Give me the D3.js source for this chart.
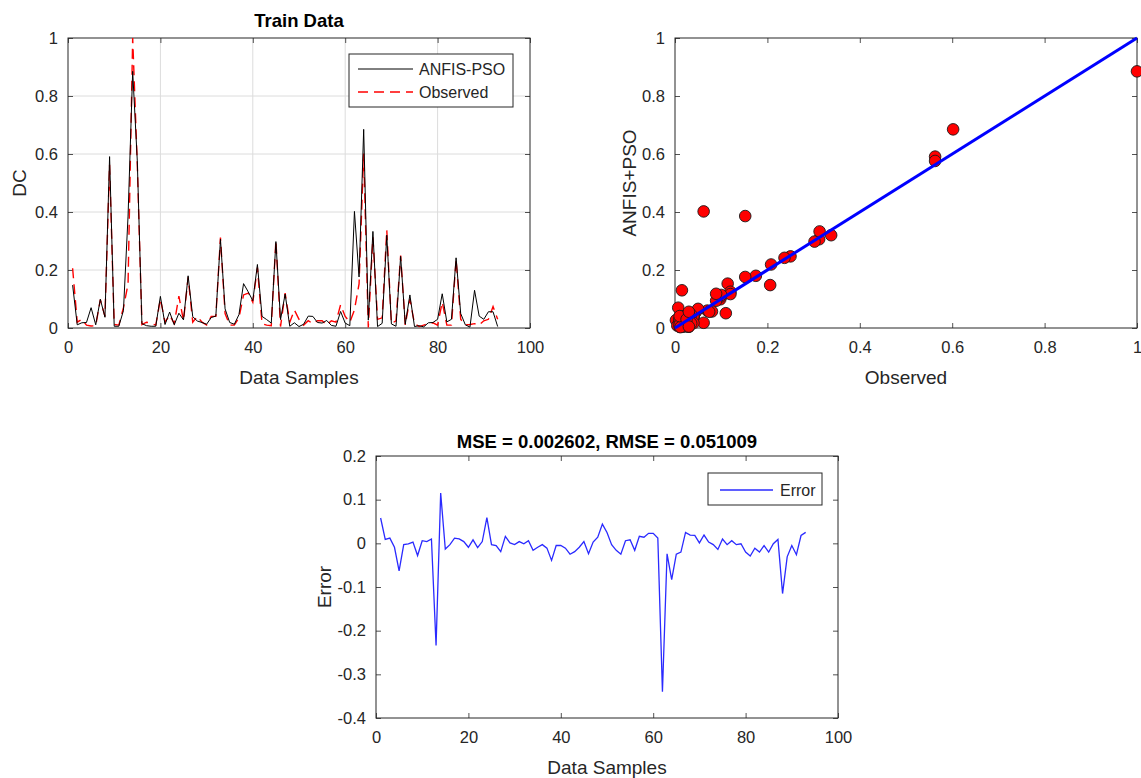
<!DOCTYPE html>
<html>
<head>
<meta charset="utf-8">
<script src="https://cdn.jsdelivr.net/npm/d3@7"></script>
<style>
  html, body { margin: 0; padding: 0; background: #fff; }
  svg { display: block; font-family: "Liberation Sans", Arial, Helvetica, sans-serif; }
  .tick text { fill: #262626; font-size: 16.5px; }
  .domain { display: none; }
  .tick line { stroke: #262626; stroke-width: 0.8; }
</style>
</head>
<body>
<svg id="fig" width="1141" height="778"></svg>
<script>
// Sample index and series (DC values)
const samples = d3.range(1, 94);
const observed = [
  0.206, 0.020, 0.030, 0.010, 0.007, 0.008, 0.098, 0.040, 0.563, 0.012,
  0.010, 0.070, 0.152, 1.000, 0.563, 0.012, 0.020, 0.016, 0.010, 0.100,
  0.020, 0.045, 0.015, 0.110, 0.025, 0.175, 0.020, 0.040, 0.020, 0.010,
  0.040, 0.040, 0.312, 0.050, 0.010, 0.010, 0.035, 0.114, 0.120, 0.089,
  0.208, 0.015, 0.010, 0.008, 0.302, 0.005, 0.120, 0.020, 0.062, 0.030,
  0.010, 0.025, 0.015, 0.025, 0.025, 0.010, 0.025, 0.020, 0.080, 0.040,
  0.020, 0.062, 0.152, 0.602, 0.002, 0.313, 0.030, 0.035, 0.338, 0.015,
  0.025, 0.250, 0.010, 0.100, 0.015, 0.005, 0.010, 0.015, 0.018, 0.010,
  0.089, 0.010, 0.010, 0.237, 0.030, 0.010, 0.012, 0.015, 0.010, 0.025,
  0.030, 0.074, 0.030
];
const predicted = [
  0.148, 0.011, 0.018, 0.019, 0.070, 0.011, 0.099, 0.037, 0.591, 0.006,
  0.006, 0.060, 0.386, 0.885, 0.576, 0.015, 0.008, 0.006, 0.006, 0.109,
  0.012, 0.055, 0.011, 0.051, 0.028, 0.180, 0.039, 0.024, 0.019, 0.013,
  0.036, 0.041, 0.306, 0.066, 0.019, 0.013, 0.046, 0.153, 0.125, 0.094,
  0.219, 0.040, 0.029, 0.017, 0.298, 0.029, 0.117, 0.006, 0.018, 0.005,
  0.013, 0.041, 0.040, 0.019, 0.017, 0.026, 0.009, 0.006, 0.057, 0.017,
  0.008, 0.402, 0.176, 0.685, 0.027, 0.333, 0.005, 0.016, 0.320, 0.014,
  0.006, 0.247, 0.013, 0.114, 0.005, 0.008, 0.004, 0.018, 0.019, 0.030,
  0.118, 0.021, 0.030, 0.242, 0.050, 0.011, 0.003, 0.130, 0.041, 0.030,
  0.056, 0.056, 0.005
];
// Residuals: observed minus model output
const errors = observed.map((v, i) => v - predicted[i]);

const sampleTicks = [0, 20, 40, 60, 80, 100];
const unitTicks = [0, 0.2, 0.4, 0.6, 0.8, 1];
const errorTicks = [-0.4, -0.3, -0.2, -0.1, 0, 0.1, 0.2];
const identityLine = [0, 1];
const titleTrain = "Train Data";
const titleError = "MSE = 0.002602, RMSE = 0.051009";

const svg = d3.select("#fig");
const AX = "#262626";
const fmt = d => (d === 0 ? "0" : d === 1 ? "1" : String(+d.toFixed(2)));

function frame(g, x, y, xt, yt, opts) {
  const [x0, x1] = x.range();
  const [y0, y1] = y.range();
  if (opts.grid) {
    g.append("g").selectAll("line").data(xt.filter(t => t !== x.domain()[0] && t !== x.domain()[1]))
      .join("line").attr("x1", d => x(d)).attr("x2", d => x(d)).attr("y1", y0).attr("y2", y1)
      .attr("stroke", "#dcdcdc").attr("stroke-width", 1);
    g.append("g").selectAll("line").data(yt.filter(t => t !== y.domain()[0] && t !== y.domain()[1]))
      .join("line").attr("y1", d => y(d)).attr("y2", d => y(d)).attr("x1", x0).attr("x2", x1)
      .attr("stroke", "#dcdcdc").attr("stroke-width", 1);
  }
  g.append("g").attr("transform", `translate(0,${y0})`)
    .call(d3.axisBottom(x).tickValues(xt).tickFormat(fmt).tickSizeInner(-5).tickSizeOuter(0).tickPadding(13));
  g.append("g").attr("transform", `translate(0,${y1})`)
    .call(d3.axisTop(x).tickValues(xt).tickFormat("").tickSizeInner(-5).tickSizeOuter(0));
  g.append("g").attr("transform", `translate(${x0},0)`)
    .call(d3.axisLeft(y).tickValues(yt).tickFormat(fmt).tickSizeInner(-5).tickSizeOuter(0).tickPadding(10));
  g.append("g").attr("transform", `translate(${x1},0)`)
    .call(d3.axisRight(y).tickValues(yt).tickFormat("").tickSizeInner(-5).tickSizeOuter(0));
  g.append("rect").attr("x", x0).attr("y", y1).attr("width", x1 - x0).attr("height", y0 - y1)
    .attr("fill", "none").attr("stroke", AX).attr("stroke-width", 1);
}

function labels(g, x, y, xl, yl, ylx, title, titleGap) {
  const [x0, x1] = x.range();
  const [y0, y1] = y.range();
  const cx = (x0 + x1) / 2, cy = (y0 + y1) / 2;
  g.append("text").attr("x", cx).attr("y", y0 + 56).attr("text-anchor", "middle")
    .attr("font-size", 19).attr("fill", AX).text(xl);
  g.append("text").attr("transform", `translate(${ylx},${cy}) rotate(-90)`).attr("text-anchor", "middle")
    .attr("font-size", 19).attr("fill", AX).text(yl);
  if (title) {
    g.append("text").attr("x", cx).attr("y", y1 - titleGap).attr("text-anchor", "middle")
      .attr("font-size", 18.5).attr("font-weight", "bold").attr("fill", "#000").text(title);
  }
}

// ---- Panel 1: time series of model output vs observed ----
{
  const g = svg.append("g");
  const x = d3.scaleLinear().domain([0, 100]).range([68, 530]);
  const y = d3.scaleLinear().domain([0, 1]).range([328, 38]);
  frame(g, x, y, sampleTicks, unitTicks, { grid: true });
  const line = d3.line();
  g.append("path").attr("d", line(samples.map((s, i) => [x(s), y(observed[i])])))
    .attr("fill", "none").attr("stroke", "#ff0000").attr("stroke-width", 1.4).attr("stroke-dasharray", "10,6");
  g.append("path").attr("d", line(samples.map((s, i) => [x(s), y(predicted[i])])))
    .attr("fill", "none").attr("stroke", "#000").attr("stroke-width", 1);
  labels(g, x, y, "Data Samples", "DC", 26, titleTrain, 11);
  // legend
  const lg = g.append("g");
  lg.append("rect").attr("x", 349).attr("y", 54).attr("width", 164).attr("height", 53)
    .attr("fill", "#fff").attr("stroke", AX).attr("stroke-width", 1);
  lg.append("line").attr("x1", 358).attr("x2", 413).attr("y1", 69).attr("y2", 69)
    .attr("stroke", "#000").attr("stroke-width", 1);
  lg.append("line").attr("x1", 358).attr("x2", 413).attr("y1", 92).attr("y2", 92)
    .attr("stroke", "#ff0000").attr("stroke-width", 1.4).attr("stroke-dasharray", "10,6");
  lg.append("text").attr("x", 419).attr("y", 74.5).attr("font-size", 16).attr("fill", AX).text("ANFIS-PSO");
  lg.append("text").attr("x", 419).attr("y", 97.5).attr("font-size", 16).attr("fill", AX).text("Observed");
}

// ---- Panel 2: observed vs predicted scatter ----
{
  const g = svg.append("g");
  const x = d3.scaleLinear().domain([0, 1]).range([675, 1137]);
  const y = d3.scaleLinear().domain([0, 1]).range([328, 38]);
  frame(g, x, y, unitTicks, unitTicks, { grid: false });
  g.append("g").selectAll("circle").data(samples.map((s, i) => [observed[i], predicted[i]]))
    .join("circle").attr("cx", d => x(d[0])).attr("cy", d => y(d[1])).attr("r", 5.8)
    .attr("fill", "#ff0000").attr("stroke", "#1a1a1a").attr("stroke-width", 0.9);
  g.append("line").attr("x1", x(identityLine[0])).attr("y1", y(identityLine[0]))
    .attr("x2", x(identityLine[1])).attr("y2", y(identityLine[1]))
    .attr("stroke", "#0000ff").attr("stroke-width", 3);
  labels(g, x, y, "Observed", "ANFIS+PSO", 636, null, 0);
}

// ---- Panel 3: residual errors ----
{
  const g = svg.append("g");
  const x = d3.scaleLinear().domain([0, 100]).range([376, 838]);
  const y = d3.scaleLinear().domain([-0.4, 0.2]).range([718, 456]);
  frame(g, x, y, sampleTicks, errorTicks, { grid: false });
  g.append("path").attr("d", d3.line()(samples.map((s, i) => [x(s), y(errors[i])])))
    .attr("fill", "none").attr("stroke", "#2a2aff").attr("stroke-width", 1.3);
  labels(g, x, y, "Data Samples", "Error", 331, titleError, 8);
  const lg = g.append("g");
  lg.append("rect").attr("x", 708).attr("y", 473).attr("width", 114).attr("height", 32)
    .attr("fill", "#fff").attr("stroke", AX).attr("stroke-width", 1);
  lg.append("line").attr("x1", 720).attr("x2", 773).attr("y1", 490).attr("y2", 490)
    .attr("stroke", "#2a2aff").attr("stroke-width", 1.3);
  lg.append("text").attr("x", 780).attr("y", 495.5).attr("font-size", 16).attr("fill", AX).text("Error");
}
</script>
</body>
</html>
